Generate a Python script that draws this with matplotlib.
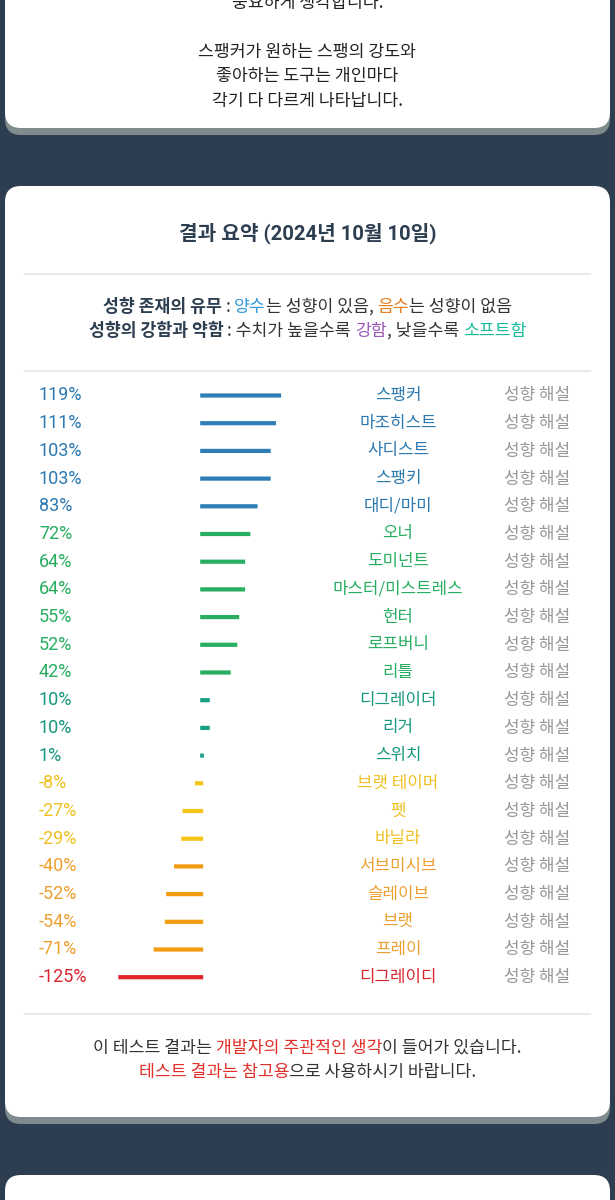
import matplotlib
matplotlib.use('Agg')
import matplotlib.pyplot as plt
from matplotlib.patches import FancyBboxPatch
from matplotlib import transforms

# 데이터
names = ['스팽커', '마조히스트', '사디스트', '스팽키', '대디/마미', '오너', '도미넌트',
         '마스터/미스트레스', '헌터', '로프버니', '리틀', '디그레이더', '리거', '스위치',
         '브랫 테이머', '펫', '바닐라', '서브미시브', '슬레이브', '브랫', '프레이', '디그레이디']
values = [119, 111, 103, 103, 83, 72, 64, 64, 55, 52, 42, 10, 10, 1,
          -8, -27, -29, -40, -52, -54, -71, -125]
groups = ['blue'] * 5 + ['green'] * 6 + ['teal'] * 3 + ['yellow'] * 3 + ['orange'] * 4 + ['red']
link_label = '성향 해설'

title = '결과 요약 (2024년 10월 10일)'
intro_lines = ['중요하게 생각합니다.', '', '스팽커가 원하는 스팽의 강도와',
               '좋아하는 도구는 개인마다', '각기 다 다르게 나타납니다.']

bar_colors = {'blue': '#2e7db6', 'green': '#27ae60', 'teal': '#17a085',
              'yellow': '#f4c418', 'orange': '#f39c12', 'red': '#e0242a'}
text_colors = {'blue': '#2b79b0', 'green': '#27ae60', 'teal': '#17977d',
               'yellow': '#f0c020', 'orange': '#eda030', 'red': '#d8262e'}

BG = '#2c3e50'
DARK = '#2c3e50'
TEXT = '#333333'
KR = ['Noto Sans CJK KR', 'DejaVu Sans']
NUM = ['Roboto', 'Noto Sans CJK KR', 'DejaVu Sans']
plt.rcParams['font.family'] = KR

fig = plt.figure(figsize=(6.15, 12), dpi=100)
fig.patch.set_facecolor(BG)
bg = fig.add_axes([0, 0, 1, 1])
bg.set_xlim(0, 615)
bg.set_ylim(1200, 0)
bg.axis('off')
renderer = fig.canvas.get_renderer()


def card(top, bottom):
    shadow = FancyBboxPatch((5, top + 7), 605, bottom - top,
                            boxstyle='round,pad=0,rounding_size=16',
                            fc='#7f8c8d', ec='none', zorder=1)
    white = FancyBboxPatch((5, top), 605, bottom - top,
                           boxstyle='round,pad=0,rounding_size=16',
                           fc='white', ec='none', zorder=2)
    bg.add_patch(shadow)
    bg.add_patch(white)


def text_width(s, size, weight):
    a = bg.text(0, 0, '|' + s + '|', fontsize=size, fontweight=weight, family=KR)
    b = bg.text(0, 0, '||', fontsize=size, fontweight=weight, family=KR)
    w = a.get_window_extent(renderer).width - b.get_window_extent(renderer).width
    a.remove()
    b.remove()
    return w


def rich_line(y, parts, size, cx=307.5):
    # parts: (text, color, weight)
    widths = [text_width(s, size, w) for s, c, w in parts]
    x = cx - sum(widths) / 2
    for (s, c, w), wd in zip(parts, widths):
        lead = len(s) - len(s.lstrip(' '))
        body = s.strip(' ')
        if body:
            off = text_width(s[:lead], size, w) if lead else 0
            bg.text(x + off, y, body, color=c, fontsize=size, fontweight=w,
                    ha='left', va='center', family=KR, zorder=3)
        x += wd


# 카드
card(-60, 128)
card(186, 1117)
card(1175, 1260)

# 상단 카드 텍스트
for i, line in enumerate(intro_lines):
    if line:
        bg.text(307.5, 3 + i * 24.5, line, ha='center', va='center',
                fontsize=12.4, color='#222222', zorder=3)

# 제목
bg.text(307.5, 233, title, ha='center', va='center', fontsize=14.6,
        fontweight='bold', color=DARK, family=NUM, zorder=3)

for y in (274, 371, 1014):
    bg.plot([25, 590], [y, y], color='#e9e9e9', lw=1.5, zorder=3)

rich_line(307, [('성향 존재의 유무', DARK, 'bold'), (' : ', TEXT, 'normal'),
                ('양수', '#3498db', 'normal'), ('는 성향이 있음, ', TEXT, 'normal'),
                ('음수', '#e67e22', 'normal'), ('는 성향이 없음', TEXT, 'normal')], 12.4)
rich_line(331, [('성향의 강함과 약함', DARK, 'bold'), (' : 수치가 높을수록 ', TEXT, 'normal'),
                ('강함', '#9b59b6', 'normal'), (', 낮을수록 ', TEXT, 'normal'),
                ('소프트함', '#1abc9c', 'normal')], 12.4)

# 막대
zero_px, scale, span = 201.7, 0.655, 140
row0, step = 395.5, 27.7
n = len(values)
top_px = row0 - step / 2
bot_px = row0 + (n - 1) * step + step / 2
left_px = zero_px - span * scale
ax = fig.add_axes([left_px / 615, 1 - bot_px / 1200,
                   2 * span * scale / 615, (bot_px - top_px) / 1200])
ax.set_xlim(-span, span)
ax.set_ylim(n - 0.5, -0.5)
ax.axis('off')
ax.set_zorder(5)

rows = list(range(n))
cols = [bar_colors[g] for g in groups]
bars = ax.barh(rows, values, height=1.2 / step, color=cols, edgecolor=cols,
               linewidth=2.16)
for b in bars:
    b.set_snap(False)

trans = transforms.blended_transform_factory(bg.transData, ax.transData)
for i, (name, v, g) in enumerate(zip(names, values, groups)):
    ax.text(39, i, f'{v}%', transform=trans, ha='left', va='center',
            fontsize=13, color=text_colors[g], family=NUM)
    ax.text(398, i, name, transform=trans, ha='center', va='center',
            fontsize=12.1, color=text_colors[g], family=KR)
    ax.text(537, i, link_label, transform=trans, ha='center', va='center',
            fontsize=12.2, color='#999999', family=KR)

# 하단 안내
rich_line(1048, [('이 테스트 결과는 ', TEXT, 'normal'),
                 ('개발자의 주관적인 생각', '#e0302a', 'normal'),
                 ('이 들어가 있습니다.', TEXT, 'normal')], 12.4)
rich_line(1072, [('테스트 결과는 참고용', '#e0302a', 'normal'),
                 ('으로 사용하시기 바랍니다.', TEXT, 'normal')], 12.4)

fig.savefig('out.png', dpi=100, facecolor=BG)
